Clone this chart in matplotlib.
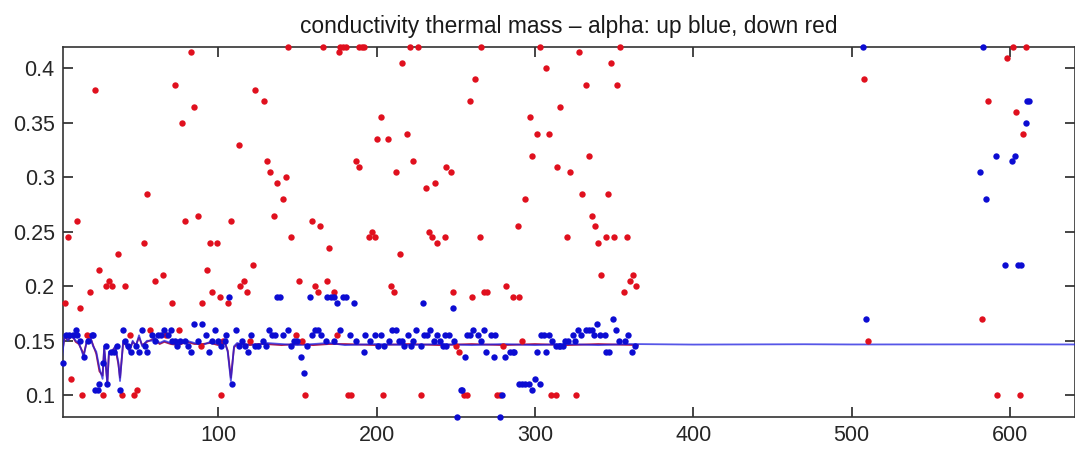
import matplotlib
matplotlib.use("Agg")
import matplotlib.pyplot as plt

# ---- data ----
red_x = [144, 166, 177, 179, 181, 189, 191, 192, 221, 226, 266, 303, 354, 602, 610,
         176, 83, 328, 598, 216, 348, 307, 262, 508, 73, 332, 352, 22, 123, 129, 259, 586,
         85, 316, 604, 77, 203, 297, 200, 207, 219, 301, 309, 608, 113, 298, 334, 131, 187,
         223, 133, 189, 212, 244, 247, 314, 322, 143, 137, 237, 231, 55, 330, 346, 141, 294,
         87, 135, 336, 11, 79, 108, 159, 164, 289, 338, 197, 233, 5, 146, 195, 199, 235, 243,
         265, 320, 345, 350, 358, 53, 95, 99, 238, 340, 37, 170, 215, 25, 93, 122, 342, 362,
         65, 31, 60, 116, 151, 169, 360, 29, 33, 41, 114, 161, 209, 282, 364, 19, 96, 118,
         163, 173, 211, 248, 268, 270, 356, 101, 260, 286, 290, 3, 71, 90, 106, 13, 582, 17,
         44, 67, 149, 175, 57, 75, 153, 292, 120, 510, 103, 89, 250, 280, 252, 7, 49, 14, 27,
         39, 47, 102, 155, 182, 184, 204, 228, 255, 257, 276, 278, 310, 313, 326, 592, 606]
red_y = [0.42, 0.42, 0.42, 0.42, 0.42, 0.42, 0.42, 0.42, 0.42, 0.42, 0.42, 0.42, 0.42, 0.42, 0.42,
         0.415, 0.415, 0.415, 0.41, 0.405, 0.405, 0.40, 0.39, 0.39, 0.385, 0.385, 0.385, 0.38, 0.38, 0.37, 0.37, 0.37,
         0.365, 0.365, 0.36, 0.35, 0.355, 0.355, 0.335, 0.335, 0.34, 0.34, 0.34, 0.34, 0.33, 0.32, 0.32, 0.315, 0.315,
         0.315, 0.305, 0.31, 0.305, 0.31, 0.305, 0.31, 0.305, 0.30, 0.295, 0.295, 0.29, 0.285, 0.285, 0.285, 0.28, 0.28,
         0.265, 0.265, 0.265, 0.26, 0.26, 0.26, 0.26, 0.255, 0.255, 0.255, 0.25, 0.25, 0.245, 0.245, 0.245, 0.245, 0.245, 0.245,
         0.245, 0.245, 0.245, 0.245, 0.245, 0.24, 0.24, 0.24, 0.24, 0.24, 0.23, 0.235, 0.23, 0.215, 0.215, 0.22, 0.21, 0.21,
         0.21, 0.205, 0.205, 0.205, 0.205, 0.205, 0.205, 0.20, 0.20, 0.20, 0.20, 0.20, 0.20, 0.20, 0.20, 0.195, 0.195, 0.195,
         0.195, 0.195, 0.195, 0.195, 0.195, 0.195, 0.195, 0.19, 0.19, 0.19, 0.19, 0.185, 0.185, 0.185, 0.185, 0.18, 0.17, 0.155,
         0.155, 0.155, 0.155, 0.155, 0.16, 0.16, 0.15, 0.15, 0.15, 0.15, 0.15, 0.145, 0.145, 0.145, 0.14, 0.115, 0.105, 0.10, 0.10,
         0.10, 0.10, 0.10, 0.10, 0.10, 0.10, 0.10, 0.10, 0.10, 0.10, 0.10, 0.10, 0.10, 0.10, 0.10, 0.10, 0.10]

blue_x = [2, 4, 6, 8, 10, 11, 13, 15, 18, 20, 21, 22, 24, 25, 27, 29, 30, 32, 34, 36, 38, 40, 41, 43,
          45, 48, 50, 52, 54, 55, 58, 60, 62, 64, 66, 68, 70, 71, 73, 74, 76, 79, 81, 83, 85, 87, 90,
          92, 94, 96, 98, 100, 102, 104, 105, 107, 109, 111, 113, 115, 117, 119, 121, 123, 125, 128,
          130, 132, 134, 136, 137, 139, 141, 144, 146, 148, 150, 152, 154, 156, 158, 159, 161, 163, 165,
          168, 169, 171, 173, 173, 175, 177, 179, 181, 183, 186, 187, 192, 193, 196, 199, 201, 203, 205,
          208, 210, 212, 214, 216, 217, 220, 222, 223, 225, 228, 229, 230, 232, 234, 236, 238, 240, 242,
          243, 244, 246, 248, 249, 251, 253, 254, 256, 257, 259, 261, 264, 266, 268, 269, 272, 274, 275,
          278, 279, 281, 284, 286, 287, 290, 292, 294, 296, 298, 300, 301, 303, 304, 306, 307, 309, 311,
          313, 315, 316, 318, 319, 321, 324, 325, 327, 329, 332, 334, 336, 337, 339, 341, 344, 345, 347,
          349, 351, 353, 357, 359, 361, 363,
          507, 509, 583, 581, 585, 591, 597, 601, 603, 605, 607, 610, 611, 612]
blue_y = [0.13, 0.155, 0.155, 0.155, 0.16, 0.155, 0.15, 0.135, 0.15, 0.155, 0.155, 0.105, 0.105, 0.11, 0.13, 0.145, 0.11, 0.14, 0.14, 0.145, 0.105, 0.16, 0.15, 0.145,
          0.14, 0.145, 0.14, 0.16, 0.145, 0.14, 0.155, 0.15, 0.155, 0.155, 0.16, 0.155, 0.16, 0.15, 0.15, 0.145, 0.15, 0.15, 0.145, 0.14, 0.165, 0.15, 0.165,
          0.155, 0.14, 0.15, 0.16, 0.15, 0.145, 0.15, 0.155, 0.19, 0.11, 0.16, 0.145, 0.15, 0.145, 0.14, 0.155, 0.145, 0.145, 0.15,
          0.145, 0.16, 0.155, 0.155, 0.19, 0.19, 0.155, 0.16, 0.145, 0.15, 0.15, 0.135, 0.12, 0.145, 0.19, 0.155, 0.16, 0.16, 0.155,
          0.15, 0.19, 0.19, 0.19, 0.15, 0.185, 0.16, 0.19, 0.19, 0.155, 0.185, 0.15, 0.14, 0.155, 0.15, 0.155, 0.145, 0.155, 0.145,
          0.15, 0.16, 0.16, 0.15, 0.15, 0.145, 0.155, 0.145, 0.15, 0.16, 0.145, 0.185, 0.155, 0.155, 0.16, 0.15, 0.155, 0.15, 0.145,
          0.155, 0.145, 0.155, 0.18, 0.15, 0.08, 0.105, 0.105, 0.135, 0.155, 0.155, 0.16, 0.155, 0.15, 0.16, 0.14, 0.155, 0.135, 0.155,
          0.08, 0.10, 0.135, 0.14, 0.14, 0.14, 0.11, 0.11, 0.11, 0.11, 0.105, 0.115, 0.14, 0.11, 0.155, 0.155, 0.14, 0.155, 0.15,
          0.145, 0.145, 0.145, 0.145, 0.15, 0.15, 0.155, 0.15, 0.16, 0.155, 0.16, 0.16, 0.16, 0.155, 0.165, 0.155, 0.155, 0.14, 0.14,
          0.17, 0.16, 0.15, 0.15, 0.155, 0.14, 0.145,
          0.42, 0.17, 0.42, 0.305, 0.28, 0.32, 0.22, 0.315, 0.32, 0.22, 0.22, 0.35, 0.37, 0.37]

# running-average lines (vertices)
blue_line_x = [1, 3, 5, 8, 10, 12, 14, 15, 17, 19, 21, 23, 25, 27, 28, 30, 31, 33, 35, 37, 38, 40,
               42, 44, 46, 48, 50, 52, 55, 58, 60, 63, 66, 70, 75, 80, 85, 90, 95, 100, 104, 106,
               108, 110, 112, 116, 120, 125, 130, 140, 150, 160, 170, 180, 200, 220, 240, 260, 280,
               300, 320, 340, 360, 400, 470, 500, 600, 642]
blue_line_y = [0.13, 0.155, 0.15, 0.155, 0.15, 0.148, 0.14, 0.135, 0.15, 0.155, 0.145, 0.14, 0.125, 0.115, 0.145, 0.11, 0.14, 0.14, 0.145, 0.13, 0.113, 0.15,
               0.145, 0.14, 0.15, 0.145, 0.155, 0.145, 0.15, 0.15, 0.153, 0.148, 0.15, 0.148, 0.147, 0.15, 0.148, 0.146, 0.149, 0.147, 0.15, 0.14,
               0.113, 0.145, 0.148, 0.146, 0.147, 0.146, 0.148, 0.147, 0.146, 0.147, 0.148, 0.146, 0.147, 0.146, 0.147, 0.146, 0.147,
               0.146, 0.147, 0.146, 0.147, 0.1465, 0.1468, 0.1466, 0.1467, 0.1466]
red_line_x = [1, 3, 5, 8, 10, 12, 14, 15, 17, 19, 21, 23, 25, 27, 28, 30, 31, 33, 35, 37, 38, 40,
              42, 44, 46, 48, 50, 52, 55, 58, 60, 63, 66, 70, 75, 80, 85, 90, 95, 100, 104, 106,
              108, 110, 112, 116, 120, 125, 130, 140, 150, 160, 170, 180, 200, 220, 240, 260, 280,
              300, 320, 340, 365]
red_line_y = [0.135, 0.153, 0.151, 0.154, 0.149, 0.147, 0.141, 0.137, 0.149, 0.154, 0.146, 0.138, 0.122, 0.118, 0.143, 0.112, 0.138, 0.141, 0.144, 0.128, 0.116, 0.148,
              0.146, 0.141, 0.149, 0.146, 0.153, 0.146, 0.149, 0.151, 0.152, 0.147, 0.149, 0.147, 0.146, 0.149, 0.147, 0.147, 0.148, 0.146, 0.149, 0.141,
              0.116, 0.144, 0.147, 0.147, 0.146, 0.147, 0.147, 0.146, 0.147, 0.146, 0.147, 0.147, 0.146, 0.147, 0.146, 0.147, 0.146,
              0.147, 0.146, 0.147, 0.146]

xticks = [100, 200, 300, 400, 500, 600]
yticks = [0.1, 0.15, 0.2, 0.25, 0.3, 0.35, 0.4]
ytick_labels = ["0.1", "0.15", "0.2", "0.25", "0.3", "0.35", "0.4"]
title = "conductivity thermal mass \u2013 alpha: up blue, down red"

# ---- figure ----
plt.rcParams['font.family'] = ['Liberation Sans', 'DejaVu Sans']
fig = plt.figure(figsize=(10.75, 4.55), dpi=100)
ax = fig.add_axes([63 / 1075, 1 - 417 / 455, 1 - 63 / 1075, (417 - 46.7) / 455])

ax.plot(red_line_x, red_line_y, color='#b01e50', lw=1.3, zorder=2)
ax.plot(blue_line_x, blue_line_y, color='#1e1ee0', lw=1.3, alpha=0.75, zorder=3)
ax.plot(red_x, red_y, 'o', color='#e0101e', ms=4.6, mec='none', clip_on=False, zorder=4)
ax.plot(blue_x, blue_y, 'o', color='#0c0cd2', ms=4.6, mec='none', clip_on=False, zorder=5)

ax.set_xlim(2, 641)
ax.set_ylim(0.08, 0.42)
ax.set_xticks(xticks)
ax.set_xticklabels([str(t) for t in xticks])
ax.set_yticks(yticks)
ax.set_yticklabels(ytick_labels)
ax.tick_params(direction='in', length=7, width=1.2, colors='#262626', labelsize=15.5,
               top=True, right=True, pad=6)
for s in ax.spines.values():
    s.set_color('#333333')
    s.set_linewidth(1.2)
ax.set_title(title, fontsize=16.4, color='#1a1a1a', pad=10)

fig.savefig('out.png', dpi=100)
